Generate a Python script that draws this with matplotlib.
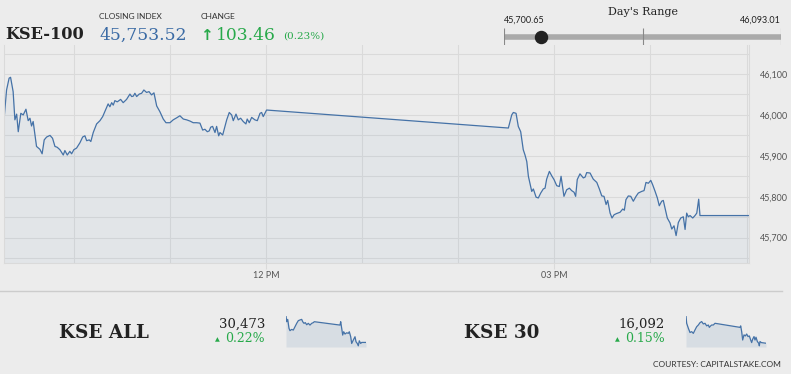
import matplotlib
matplotlib.use("Agg")
import matplotlib.pyplot as plt
from matplotlib.ticker import MultipleLocator, FixedLocator, FuncFormatter

# ==========================================================
# DATI - tempo in minuti dopo le 09:00
# ==========================================================

minutes_kse100 = [
    16.5, 18.1, 19.7, 20.6, 22.2, 23.3, 24.4, 25.4, 27.0, 28.5,
    30.2, 31.6, 32.7, 33.7, 34.7, 36.8, 38.9, 40.3, 41.6, 43.1,
    45.2, 46.8, 48.3, 49.7, 51.4, 53.5, 54.5, 56.0, 57.6, 58.7,
    60.1, 61.8, 63.9, 65.6, 67.0, 68.1, 69.7, 70.7, 72.2, 74.3,
    76.4, 78.1, 80.1, 81.5, 82.6, 83.7, 84.7, 85.7, 87.2, 89.3,
    90.9, 93.0, 95.1, 96.2, 97.2, 98.2, 99.3, 100.9, 102.4, 103.8,
    105.5, 107.0, 108.6, 110.1, 111.8, 113.8, 115.9, 117.6, 120.1, 122.1,
    124.3, 126.3, 128.4, 130.5, 132.6, 134.6, 136.7, 138.8, 140.5, 141.9,
    143.4, 144.6, 145.5, 146.7, 148.2, 149.2, 150.5, 151.3, 153.0, 153.8,
    155.5, 157.1, 158.6, 159.6, 161.3, 162.7, 164.2, 165.8, 167.5, 168.3,
    169.6, 171.1, 173.1, 174.6, 176.3, 177.3, 178.3, 180.4,
    331.3, 333.4, 334.4, 336.1, 337.5, 339.0, 340.6, 341.7, 342.8, 343.8,
    345.9, 346.9, 348.6, 350.0, 351.5, 353.1, 354.2, 355.2, 356.9, 358.4,
    359.8, 361.5, 363.1, 364.2, 366.0, 367.7, 369.4, 370.8, 372.3, 373.3,
    374.3, 376.0, 378.1, 379.2, 380.2, 382.3, 384.3, 386.5, 388.1, 389.6,
    391.0, 392.3, 393.3, 394.8, 396.0, 397.3, 398.9, 401.0, 402.7, 403.7,
    404.7, 406.2, 407.7, 409.3, 411.0, 412.4, 414.5, 416.0, 417.2, 418.7,
    420.2, 421.4, 422.9, 424.3, 425.5, 427.0, 428.0, 429.1, 430.5, 432.2,
    433.3, 434.7, 436.0, 437.4, 438.9, 440.5, 441.6, 442.6, 443.6, 444.7,
    446.4, 447.8, 448.9, 450.1, 450.9, 481.5,
]

values_kse100 = [
    45988, 46061, 46090, 46092, 46057, 45988, 46002, 45959, 46004, 46000,
    46014, 45986, 45992, 45973, 45984, 45923, 45916, 45905, 45939, 45946,
    45950, 45943, 45923, 45921, 45915, 45902, 45913, 45902, 45911, 45905,
    45915, 45919, 45932, 45946, 45949, 45937, 45939, 45935, 45957, 45978,
    45986, 45996, 46014, 46027, 46020, 46030, 46024, 46035, 46032, 46038,
    46030, 46038, 46051, 46045, 46046, 46053, 46045, 46051, 46053, 46061,
    46055, 46057, 46049, 46054, 46022, 46008, 45990, 45981, 45981, 45988,
    45993, 45998, 45990, 45988, 45985, 45981, 45981, 45980, 45963, 45965,
    45959, 45961, 45970, 45972, 45957, 45972, 45949, 45957, 45951, 45963,
    45988, 46006, 46000, 45986, 46002, 45988, 45992, 45984, 45978, 45990,
    45981, 45994, 45988, 45986, 46004, 46006, 45996, 46012,
    45968, 46000, 46006, 46004, 45972, 45959, 45915, 45902, 45886, 45850,
    45813, 45819, 45799, 45797, 45809, 45819, 45821, 45843, 45862, 45851,
    45842, 45827, 45825, 45850, 45801, 45817, 45821, 45815, 45811, 45801,
    45842, 45856, 45846, 45848, 45859, 45858, 45843, 45835, 45819, 45802,
    45801, 45781, 45791, 45760, 45748, 45756, 45759, 45762, 45770, 45767,
    45793, 45802, 45801, 45789, 45801, 45809, 45813, 45815, 45835, 45833,
    45840, 45829, 45813, 45797, 45778, 45789, 45791, 45772, 45748, 45736,
    45721, 45729, 45705, 45737, 45748, 45751, 45720, 45760, 45751, 45754,
    45748, 45754, 45760, 45794, 45754, 45754,
]

minutes_kse_all = [
    16.4, 20.5, 26.3, 33.8, 39.6, 49.5, 58.8, 68.7, 78.6, 87.9,
    97.7, 107.6, 113.4, 121.0, 128.5, 136.7, 146.0, 155.8, 165.7, 175.0,
    180.8, 330.1, 334.2, 340.0, 345.8, 351.6, 359.2, 369.1, 378.4, 384.2,
    392.3, 398.1, 407.4, 417.3, 423.1, 430.7, 436.5, 442.3, 450.4, 456.2,
    481.2,
]
values_kse_all = [
    30700, 30651, 30671, 30594, 30574, 30585, 30579, 30608, 30637, 30660,
    30666, 30671, 30651, 30637, 30643, 30625, 30637, 30622, 30637, 30643,
    30651, 30622, 30651, 30594, 30536, 30565, 30545, 30556, 30551, 30565,
    30522, 30464, 30493, 30522, 30479, 30464, 30444, 30487, 30464, 30473,
    30473,
]

minutes_kse30 = [
    16.4, 20.3, 30.0, 39.6, 49.3, 59.0, 68.7, 78.4, 88.1, 97.8,
    107.4, 117.1, 126.8, 136.5, 146.2, 152.0, 159.7, 165.5, 175.2, 184.9,
    330.2, 334.1, 339.9, 345.7, 353.4, 361.2, 368.9, 376.7, 384.4, 392.2,
    398.0, 403.8, 411.5, 417.3, 423.1, 430.9, 438.7, 442.5, 446.3, 454.2,
    481.2,
]
values_kse30 = [
    16219, 16185, 16162, 16142, 16146, 16138, 16154, 16169, 16177, 16188,
    16193, 16182, 16185, 16173, 16177, 16166, 16173, 16177, 16177, 16185,
    16166, 16173, 16146, 16107, 16131, 16126, 16135, 16123, 16126, 16107,
    16095, 16111, 16123, 16107, 16120, 16100, 16092, 16080, 16100, 16095,
    16092,
]

closing_index = 45753.52
change_points = 103.46
change_pct = 0.23
day_low = 45700.65
day_high = 46093.01

x_tick_pos = [180, 360]
x_tick_labels = ["12 PM", "03 PM"]

# ==========================================================
# STILE
# ==========================================================

W, H = 791, 374
BG = "#ececec"
LINE = "#4572a7"
GRID = "#dadada"
GREEN = "#27a94a"
BLUE = "#3b6ba5"
DARK = "#222222"
SERIF = "DejaVu Serif"
SANS = "Lato"


def box(x0, y0, x1, y1):
    # rettangolo in pixel (origine in alto a sinistra) -> coordinate figura
    return [x0 / W, 1 - y1 / H, (x1 - x0) / W, (y1 - y0) / H]


def fx(x):
    return x / W


def fy(y):
    return 1 - y / H


fig = plt.figure(figsize=(W / 100, H / 100), dpi=100, facecolor=BG)

# ==========================================================
# GRAFICO PRINCIPALE KSE-100
# ==========================================================

ax = fig.add_axes(box(4, 45, 749, 263))
ax.set_facecolor(BG)
ax.set_xlim(minutes_kse100[0], minutes_kse100[-1])
ax.set_ylim(45638, 46171)
y_bottom = ax.get_ylim()[0]

ax.fill_between(minutes_kse100, values_kse100, y_bottom, color=LINE, alpha=0.055, lw=0)
ax.plot(minutes_kse100, values_kse100, color=LINE, lw=0.9)

ax.xaxis.set_major_locator(FixedLocator(x_tick_pos))
ax.set_xticklabels(x_tick_labels)
ax.xaxis.set_minor_locator(MultipleLocator(60))
ax.yaxis.set_major_locator(MultipleLocator(50))
ax.yaxis.set_major_formatter(FuncFormatter(lambda v, p: f"{int(v):,}" if int(v) % 100 == 0 else ""))
ax.yaxis.tick_right()

ax.grid(True, which="both", color=GRID, lw=0.8)
ax.set_axisbelow(True)
ax.tick_params(axis="x", which="major", length=4, color=GRID, labelsize=6.5,
               labelcolor="#555555", pad=2)
ax.tick_params(axis="x", which="minor", length=0)
ax.tick_params(axis="y", length=0, labelsize=6.5, labelcolor="#555555", pad=8)
for lab in ax.get_xticklabels() + ax.get_yticklabels():
    lab.set_family(SANS)

ax.spines["top"].set_visible(False)
for side in ["left", "right", "bottom"]:
    ax.spines[side].set_color(GRID)
    ax.spines[side].set_linewidth(0.8)

# ==========================================================
# INTESTAZIONE
# ==========================================================

fig.text(fx(5), fy(39), "KSE-100", family=SERIF, weight="bold", fontsize=11.6, color=DARK)
fig.text(fx(99), fy(19), "CLOSING INDEX", family=SANS, fontsize=6, color="#333333")
fig.text(fx(99), fy(40), f"{closing_index:,.2f}", family=SERIF, fontsize=12.3, color=BLUE)
fig.text(fx(201), fy(19), "CHANGE", family=SANS, fontsize=6, color="#333333")
fig.text(fx(200), fy(40), "\u2191", family="DejaVu Sans", weight="bold", fontsize=11, color=GREEN)
fig.text(fx(216), fy(40), f"{change_points:.2f}", family=SERIF, fontsize=12.3, color=GREEN)
fig.text(fx(283), fy(39), f"({change_pct:.2f}%)", family=SERIF, fontsize=7.5, color=GREEN)

# Day's range
fig.text(fx(643), fy(15), "Day's Range", family=SERIF, fontsize=8, color=DARK, ha="center")
fig.text(fx(504), fy(23), f"{day_low:,.2f}", family=SANS, fontsize=6.5, color=DARK)
fig.text(fx(781), fy(23), f"{day_high:,.2f}", family=SANS, fontsize=6.5, color=DARK, ha="right")

ax_r = fig.add_axes(box(504, 28, 781, 45))
ax_r.set_xlim(day_low, day_high)
ax_r.set_ylim(0, 1)
ax_r.axis("off")
ax_r.hlines(0.5, day_low, day_high, color="#aaaaaa", lw=4)
ax_r.vlines([day_low, (day_low + day_high) / 2, day_high], 0, 1, color="#888888", lw=0.8)
ax_r.scatter([closing_index], [0.5], s=75, color=DARK, zorder=3, clip_on=False)

# ==========================================================
# PARTE BASSA: KSE ALL e KSE 30
# ==========================================================

fig.add_artist(plt.Line2D([0, fx(782)], [fy(291), fy(291)], color="#cccccc", lw=1))


def sparkline(rect, t, v):
    a = fig.add_axes(rect)
    a.set_xlim(t[0], t[-1])
    pad = (max(v) - min(v)) * 0.04
    a.set_ylim(min(v) - pad, max(v))
    a.fill_between(t, v, min(v) - pad, color=LINE, alpha=0.12, lw=0)
    a.plot(t, v, color=LINE, lw=0.9)
    a.axis("off")
    return a


def index_block(name, x_name, x_val, last, pct, spark_rect, t, v):
    fig.text(fx(x_name), fy(338), name, family=SERIF, weight="bold", fontsize=13.2, color=DARK)
    fig.text(fx(x_val), fy(328), f"{last:,}", family=SERIF, fontsize=9.5, color=DARK, ha="right")
    fig.text(fx(x_val), fy(342), f"{pct:.2f}%", family=SERIF, fontsize=9, color=GREEN, ha="right")
    fig.text(fx(x_val - 50), fy(341), "\u25b2", family="DejaVu Sans", fontsize=4.5, color=GREEN)
    sparkline(spark_rect, t, v)


index_block("KSE ALL", 59, 265, values_kse_all[-1], 0.22,
            box(286, 316, 366, 347), minutes_kse_all, values_kse_all)
index_block("KSE 30", 464, 665, values_kse30[-1], 0.15,
            box(686, 316, 766, 347), minutes_kse30, values_kse30)

fig.text(fx(781), fy(367), "COURTESY: CAPITALSTAKE.COM", family=SANS, fontsize=6,
         color="#333333", ha="right")

fig.savefig("out.png", dpi=100, facecolor=BG)
